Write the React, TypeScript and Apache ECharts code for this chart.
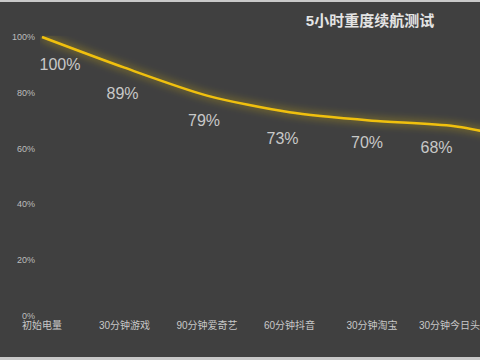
import React, { useEffect, useRef } from "react";
import * as echarts from "echarts";

const title = "5小时重度续航测试";
const categories = ["初始电量", "30分钟游戏", "90分钟爱奇艺", "60分钟抖音", "30分钟淘宝", "30分钟今日头条", ""];
const batteryValues = [100, 89, 79, 73, 70, 68, 62];
const showLabel = [true, true, true, true, true, true, false];
const yTicks = [0, 20, 40, 60, 80, 100];
const labelDx = [18, -2, -3, -7, -5, -18, 0];
const labelDy = [1, 0, -1, 0, -4, -5, 0];

const FONT = '"Liberation Sans", Arial, "Noto Sans CJK SC", sans-serif';

export default function App() {
  const ref = useRef<HTMLDivElement>(null);
  useEffect(() => {
    if (!ref.current) return;
    const chart = echarts.init(ref.current, undefined, { renderer: "svg" });
    chart.setOption({
      animation: false,
      backgroundColor: "#404040",
      textStyle: { fontFamily: FONT },
      title: {
        text: title,
        left: 365,
        textAlign: "center",
        top: 8,
        textStyle: { color: "#e4e4e4", fontSize: 15, fontWeight: "bold", fontFamily: FONT },
      },
      graphic: [
        { type: "rect", shape: { x: 0, y: 0, width: 600, height: 2 }, style: { fill: "#c9c9c9" } },
        { type: "rect", shape: { x: 0, y: 357, width: 600, height: 3 }, style: { fill: "#c9c9c9" } },
      ],
      grid: { left: 42, top: 37, right: 23, bottom: 44, containLabel: false },
      xAxis: {
        type: "category",
        data: categories,
        boundaryGap: false,
        axisLine: { show: false },
        axisTick: { show: false },
        axisLabel: { color: "#c8c8c8", fontSize: 10, margin: 4, interval: 0, fontFamily: FONT },
      },
      yAxis: {
        type: "value",
        min: yTicks[0],
        max: yTicks[yTicks.length - 1],
        interval: yTicks[1] - yTicks[0],
        splitLine: { show: false },
        axisLine: { show: false },
        axisTick: { show: false },
        axisLabel: { color: "#bdbdbd", fontSize: 9, margin: 7, formatter: "{value}%", fontFamily: FONT },
      },
      series: [
        {
          type: "line",
          smooth: 0.25,
          showSymbol: true,
          symbol: "circle",
          symbolSize: 2,
          itemStyle: { color: "rgba(0,0,0,0)", borderWidth: 0 },
          data: batteryValues.map((v, i) => ({
            value: v,
            label: { show: showLabel[i] },
          })),
          lineStyle: {
            color: "#f0c010",
            width: 2.5,
            shadowColor: "rgba(255, 210, 0, 0.75)",
            shadowBlur: 9,
          },
          label: {
            show: true,
            position: "bottom",
            distance: 17,
            formatter: "{c}%",
            color: "#c8c8c8",
            fontSize: 16,
            fontFamily: FONT,
          },
          labelLayout: (params: any) => ({
            hideOverlap: false,
            dx: labelDx[params.dataIndex] || 0,
            dy: labelDy[params.dataIndex] || 0,
          }),
        },
      ],
    });
    return () => chart.dispose();
  }, []);
  return (
    <div
      style={{
        position: "fixed",
        left: 0,
        top: 0,
        width: 480,
        height: 360,
        overflow: "hidden",
        background: "#404040",
      }}
    >
      <div ref={ref} style={{ width: 560, height: 360 }} />
    </div>
  );
}
